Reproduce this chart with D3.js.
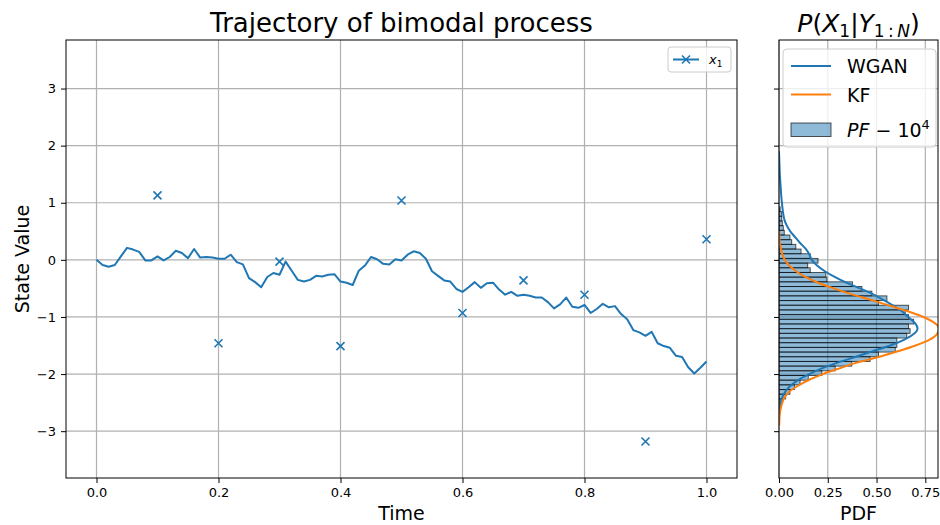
<!DOCTYPE html>
<html>
<head>
<meta charset="utf-8">
<script src="https://cdn.jsdelivr.net/npm/d3@7"></script>
<style>
  body { margin: 0; background: #fff; }
  text { font-family: "DejaVu Sans", sans-serif; fill: #000; }
</style>
</head>
<body>
<svg width="940" height="525"></svg>
<script>
// Trajectory of x1 (one step = 0.01)
const times = [0.00,0.01,0.02,0.03,0.04,0.05,0.06,0.07,0.08,0.09,
  0.10,0.11,0.12,0.13,0.14,0.15,0.16,0.17,0.18,0.19,
  0.20,0.21,0.22,0.23,0.24,0.25,0.26,0.27,0.28,0.29,
  0.30,0.31,0.32,0.33,0.34,0.35,0.36,0.37,0.38,0.39,
  0.40,0.41,0.42,0.43,0.44,0.45,0.46,0.47,0.48,0.49,
  0.50,0.51,0.52,0.53,0.54,0.55,0.56,0.57,0.58,0.59,
  0.60,0.61,0.62,0.63,0.64,0.65,0.66,0.67,0.68,0.69,
  0.70,0.71,0.72,0.73,0.74,0.75,0.76,0.77,0.78,0.79,
  0.80,0.81,0.82,0.83,0.84,0.85,0.86,0.87,0.88,0.89,
  0.90,0.91,0.92,0.93,0.94,0.95,0.96,0.97,0.98,0.99,1.00];
const stateValues = [0.00,-0.09,-0.12,-0.09,0.06,0.21,0.18,0.14,-0.01,-0.01,
  0.06,-0.01,0.05,0.16,0.12,0.03,0.19,0.04,0.05,0.04,
  0.02,0.02,0.09,-0.04,-0.08,-0.32,-0.39,-0.48,-0.30,-0.23,
  -0.26,-0.03,-0.19,-0.35,-0.38,-0.35,-0.28,-0.29,-0.26,-0.25,
  -0.38,-0.40,-0.44,-0.19,-0.10,0.05,0.01,-0.07,-0.08,0.01,
  -0.01,0.09,0.15,0.12,0.02,-0.20,-0.28,-0.36,-0.38,-0.51,
  -0.56,-0.48,-0.39,-0.49,-0.41,-0.40,-0.52,-0.61,-0.56,-0.63,
  -0.61,-0.63,-0.66,-0.66,-0.74,-0.85,-0.78,-0.66,-0.82,-0.84,
  -0.79,-0.93,-0.86,-0.77,-0.83,-0.81,-0.95,-1.04,-1.23,-1.27,
  -1.33,-1.26,-1.46,-1.51,-1.54,-1.68,-1.70,-1.88,-1.99,-1.89,-1.78];

// Observations (x markers)
const obsTimes = [0.1,0.2,0.3,0.4,0.5,0.6,0.7,0.8,0.9,1.0];
const obsValues = [1.13,-1.46,-0.03,-1.51,1.04,-0.93,-0.36,-0.61,-3.18,0.36];

// PF histogram (bin centres and density)
const binWidth = 0.082;
const pfCenters = [0.886,0.804,0.722,0.640,0.558,0.476,0.394,0.312,0.230,0.148,
  0.066,-0.016,-0.098,-0.180,-0.262,-0.344,-0.426,-0.508,-0.590,-0.672,
  -0.754,-0.836,-0.918,-1.000,-1.082,-1.164,-1.246,-1.328,-1.410,-1.492,
  -1.574,-1.656,-1.738,-1.820,-1.902,-1.984,-2.066,-2.148,-2.230,-2.312,
  -2.394,-2.476];
const pfDensity = [0.006,0.014,0.014,0.017,0.022,0.027,0.056,0.065,0.086,0.113,
  0.160,0.200,0.147,0.160,0.240,0.245,0.377,0.425,0.476,0.553,
  0.510,0.664,0.647,0.664,0.690,0.664,0.672,0.655,0.604,0.604,
  0.596,0.510,0.467,0.373,0.288,0.220,0.150,0.108,0.079,0.056,
  0.034,0.018];

// WGAN density curve
const wganY = [1.9,1.8,1.7,1.6,1.5,1.4,1.3,1.2,1.1,1.0,0.9,0.8,0.7,0.6,0.5,0.4,0.3,0.2,0.1,0.0,
  -0.1,-0.2,-0.3,-0.4,-0.5,-0.6,-0.7,-0.8,-0.9,-1.0,-1.1,-1.2,-1.3,-1.4,-1.5,-1.6,-1.7,-1.8,
  -1.9,-2.0,-2.1,-2.2,-2.3,-2.4,-2.5,-2.6,-2.7];
const wganPdf = [0.000,0.001,0.002,0.003,0.004,0.006,0.008,0.010,0.012,0.015,0.018,0.022,0.028,0.040,0.058,0.082,0.107,0.135,0.155,0.168,
  0.195,0.235,0.285,0.345,0.415,0.480,0.535,0.585,0.630,0.662,0.695,0.710,0.690,0.640,0.570,0.480,0.390,0.300,
  0.220,0.155,0.100,0.060,0.034,0.018,0.008,0.003,0.001];

// KF density curve
const kfY = [0.5,0.4,0.3,0.2,0.1,0.0,-0.1,-0.2,-0.3,-0.4,-0.5,-0.6,-0.7,-0.8,-0.9,-1.0,-1.1,-1.2,
  -1.3,-1.4,-1.5,-1.6,-1.7,-1.8,-1.9,-2.0,-2.1,-2.2,-2.3,-2.4,-2.5,-2.6,-2.7,-2.8,-2.9];
const kfPdf = [0.001,0.002,0.004,0.009,0.017,0.030,0.052,0.088,0.135,0.200,0.280,0.370,0.470,0.565,0.660,0.740,0.795,0.820,
  0.810,0.770,0.700,0.610,0.510,0.400,0.310,0.225,0.155,0.100,0.055,0.030,0.017,0.009,0.004,0.002,0.001];

const xTicks = [0, 0.2, 0.4, 0.6, 0.8, 1.0];
const yTicks = [-3, -2, -1, 0, 1, 2, 3];
const pdfTicks = [0, 0.25, 0.5, 0.75];

const blue = "#1f77b4", orange = "#ff7f0e", gridColor = "#b0b0b0";
const svg = d3.select("svg");

// Panel boxes
const L = { left: 66, right: 737, top: 40, bottom: 478 };
const R = { left: 779, right: 938, top: 40, bottom: 478 };

const xScale = d3.scaleLinear().domain([-0.05, 1.05]).range([L.left, L.right]);
const yScale = d3.scaleLinear().domain([-3.82, 3.85]).range([L.bottom, L.top]);
const pdfScale = d3.scaleLinear().domain([0, 0.815]).range([R.left, R.right]);

// grids
const grid = svg.append("g").attr("stroke", gridColor).attr("stroke-width", 1.2);
grid.selectAll(".gx").data(xTicks).enter().append("line")
  .attr("x1", d => xScale(d)).attr("x2", d => xScale(d))
  .attr("y1", L.top).attr("y2", L.bottom);
grid.selectAll(".gy").data(yTicks).enter().append("line")
  .attr("x1", L.left).attr("x2", L.right)
  .attr("y1", d => yScale(d)).attr("y2", d => yScale(d));
grid.selectAll(".gpx").data(pdfTicks).enter().append("line")
  .attr("x1", d => pdfScale(d)).attr("x2", d => pdfScale(d))
  .attr("y1", R.top).attr("y2", R.bottom);
grid.selectAll(".gpy").data(yTicks).enter().append("line")
  .attr("x1", R.left).attr("x2", R.right)
  .attr("y1", d => yScale(d)).attr("y2", d => yScale(d));

// clip paths
const defs = svg.append("defs");
defs.append("clipPath").attr("id", "clipL").append("rect")
  .attr("x", L.left).attr("y", L.top).attr("width", L.right - L.left).attr("height", L.bottom - L.top);
defs.append("clipPath").attr("id", "clipR").append("rect")
  .attr("x", R.left).attr("y", R.top).attr("width", R.right - R.left).attr("height", R.bottom - R.top);

// trajectory
const traj = times.map((t, i) => [t, stateValues[i]]);
svg.append("path")
  .attr("clip-path", "url(#clipL)")
  .attr("d", d3.line().x(d => xScale(d[0])).y(d => yScale(d[1]))(traj))
  .attr("fill", "none").attr("stroke", blue).attr("stroke-width", 2)
  .attr("stroke-linejoin", "round");

// observation markers
const xMark = (g, cx, cy, s) => {
  g.append("path")
    .attr("d", `M${cx - s},${cy - s}L${cx + s},${cy + s}M${cx - s},${cy + s}L${cx + s},${cy - s}`)
    .attr("stroke", blue).attr("stroke-width", 1.6).attr("fill", "none");
};
const marks = svg.append("g");
obsTimes.forEach((t, i) => xMark(marks, xScale(t), yScale(obsValues[i]), 4));

// histogram
svg.append("g").attr("clip-path", "url(#clipR)")
  .selectAll("rect").data(pfCenters.map((c, i) => ({ c, d: pfDensity[i] })))
  .enter().append("rect")
  .attr("x", pdfScale(0))
  .attr("y", d => yScale(d.c + binWidth / 2))
  .attr("width", d => pdfScale(d.d) - pdfScale(0))
  .attr("height", d => yScale(d.c - binWidth / 2) - yScale(d.c + binWidth / 2))
  .attr("fill", blue).attr("fill-opacity", 0.5)
  .attr("stroke", "#000").attr("stroke-opacity", 0.65).attr("stroke-width", 1);

const densityLine = d3.line()
  .x(d => pdfScale(d[1])).y(d => yScale(d[0]))
  .curve(d3.curveMonotoneY);
svg.append("path").attr("clip-path", "url(#clipR)")
  .attr("d", densityLine(wganY.map((y, i) => [y, wganPdf[i]])))
  .attr("fill", "none").attr("stroke", blue).attr("stroke-width", 2);
svg.append("path").attr("clip-path", "url(#clipR)")
  .attr("d", densityLine(kfY.map((y, i) => [y, kfPdf[i]])))
  .attr("fill", "none").attr("stroke", orange).attr("stroke-width", 2);

// spines
[L, R].forEach(b => {
  svg.append("rect")
    .attr("x", b.left).attr("y", b.top)
    .attr("width", b.right - b.left).attr("height", b.bottom - b.top)
    .attr("fill", "none").attr("stroke", "#000").attr("stroke-width", 1);
});

// axes
const styleAxis = g => {
  g.select(".domain").remove();
  g.selectAll(".tick line").attr("stroke", "#000").attr("stroke-width", 1);
  g.selectAll(".tick text").attr("font-size", 13).attr("font-family", "DejaVu Sans").attr("fill", "#000");
};
svg.append("g").attr("transform", `translate(0,${L.bottom})`)
  .call(d3.axisBottom(xScale).tickValues(xTicks).tickFormat(d3.format(".1f")).tickSize(5).tickPadding(5))
  .call(styleAxis);
svg.append("g").attr("transform", `translate(${L.left},0)`)
  .call(d3.axisLeft(yScale).tickValues(yTicks).tickFormat(d => d < 0 ? "\u2212" + Math.abs(d) : d).tickSize(5).tickPadding(5))
  .call(styleAxis);
svg.append("g").attr("transform", `translate(0,${R.bottom})`)
  .call(d3.axisBottom(pdfScale).tickValues(pdfTicks).tickFormat(d3.format(".2f")).tickSize(5).tickPadding(5))
  .call(styleAxis);
svg.append("g").attr("transform", `translate(${R.left},0)`)
  .call(d3.axisLeft(yScale).tickValues(yTicks).tickFormat("").tickSize(5))
  .call(styleAxis);

// titles and labels
svg.append("text").attr("x", (L.left + L.right) / 2).attr("y", 32)
  .attr("text-anchor", "middle").attr("font-size", 26).text("Trajectory of bimodal process");

const rt = svg.append("text").attr("x", (R.left + R.right) / 2).attr("y", 32)
  .attr("text-anchor", "middle").attr("font-size", 25);
rt.append("tspan").attr("font-style", "italic").text("P");
rt.append("tspan").text("(");
rt.append("tspan").attr("font-style", "italic").text("X");
rt.append("tspan").attr("font-size", 17).attr("dy", 5).text("1");
rt.append("tspan").attr("dy", -5).text("|");
rt.append("tspan").attr("font-style", "italic").text("Y");
rt.append("tspan").attr("font-size", 17).attr("dy", 5).text("1\u2009:\u2009");
rt.append("tspan").attr("font-size", 17).attr("font-style", "italic").text("N");
rt.append("tspan").attr("dy", -5).text(")");

svg.append("text").attr("x", (L.left + L.right) / 2).attr("y", 520)
  .attr("text-anchor", "middle").attr("font-size", 19).text("Time");
svg.append("text").attr("x", (R.left + R.right) / 2).attr("y", 520)
  .attr("text-anchor", "middle").attr("font-size", 19).text("PDF");
svg.append("text").attr("transform", `translate(29,${(L.top + L.bottom) / 2}) rotate(-90)`)
  .attr("text-anchor", "middle").attr("font-size", 19).text("State Value");

// left legend
const lg = svg.append("g");
lg.append("rect").attr("x", 668).attr("y", 47).attr("width", 63).attr("height", 25)
  .attr("rx", 3).attr("fill", "#fff").attr("fill-opacity", 0.8).attr("stroke", "#ccc");
lg.append("line").attr("x1", 673).attr("x2", 699).attr("y1", 59.5).attr("y2", 59.5)
  .attr("stroke", blue).attr("stroke-width", 2);
xMark(lg, 686, 59.5, 4);
const lt = lg.append("text").attr("x", 709).attr("y", 64).attr("font-size", 13);
lt.append("tspan").attr("font-style", "italic").text("x");
lt.append("tspan").attr("font-size", 9).attr("dy", 3).text("1");

// right legend
const rg = svg.append("g");
rg.append("rect").attr("x", 783).attr("y", 49).attr("width", 153).attr("height", 98)
  .attr("rx", 4).attr("fill", "#fff").attr("fill-opacity", 0.8).attr("stroke", "#ccc");
rg.append("line").attr("x1", 791).attr("x2", 831).attr("y1", 66).attr("y2", 66)
  .attr("stroke", blue).attr("stroke-width", 2);
rg.append("text").attr("x", 847).attr("y", 73).attr("font-size", 19).text("WGAN");
rg.append("line").attr("x1", 791).attr("x2", 831).attr("y1", 94.5).attr("y2", 94.5)
  .attr("stroke", orange).attr("stroke-width", 2);
rg.append("text").attr("x", 847).attr("y", 101.5).attr("font-size", 19).text("KF");
rg.append("rect").attr("x", 791).attr("y", 123).attr("width", 40).attr("height", 13.5)
  .attr("fill", blue).attr("fill-opacity", 0.5).attr("stroke", "#000").attr("stroke-opacity", 0.65);
const pt = rg.append("text").attr("x", 847).attr("y", 136.5).attr("font-size", 19);
pt.append("tspan").attr("font-style", "italic").text("PF");
pt.append("tspan").text(" \u2212 10");
pt.append("tspan").attr("font-size", 13).attr("dy", -8).text("4");
</script>
</body>
</html>
